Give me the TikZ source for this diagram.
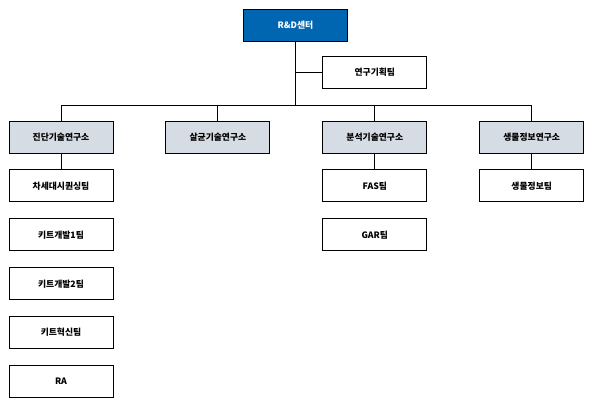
\documentclass[tikz,border=0pt]{standalone}
\usepackage{fontspec}
\setmainfont{Noto Sans CJK KR}
\usepackage{tikz}
\usetikzlibrary{positioning}
\definecolor{centerblue}{RGB}{0,102,178}
\definecolor{labgray}{RGB}{214,220,228}
\tikzset{
  unit/.style={draw, line width=0.9pt, minimum width=104pt, minimum height=32pt,
    inner sep=0pt, font=\fontsize{8.8}{10}\selectfont\bfseries},
  center/.style={unit, fill=centerblue, text=white},
  lab/.style={unit, fill=labgray},
  link/.style={line width=0.9pt}
}
\begin{document}
\begin{tikzpicture}[x=1pt, y=1pt]
    \useasboundingbox (0,0) rectangle (592,-400);
    \node (rnd) [center] at (295.5,-25.5) {R\&D센터};
    \node (lab1) [lab] at (61,-137) {진단기술연구소};
    \node (lab2) [lab, right=52pt of lab1] {살균기술연구소};
    \node (lab3) [lab, right=52pt of lab2] {분석기술연구소};
    \node (lab4) [lab, right=52pt of lab3] {생물정보연구소};
    \node (plan) [unit, above=31.5pt of lab3] {연구기획팀};
    % 진단기술연구소 teams
    \node (seq)  [unit, below=16pt of lab1] {차세대시퀀싱팀};
    \node (kit1) [unit, below=16pt of seq]  {키트개발1팀};
    \node (kit2) [unit, below=16pt of kit1] {키트개발2팀};
    \node (kit3) [unit, below=16pt of kit2] {키트혁신팀};
    \node (ra)   [unit, below=16pt of kit3] {RA};
    % 분석기술연구소 / 생물정보연구소 teams
    \node (fas)  [unit, below=16pt of lab3] {FAS팀};
    \node (gar)  [unit, below=16pt of fas]  {GAR팀};
    \node (bio)  [unit, below=16pt of lab4] {생물정보팀};
    \coordinate (bus) at ([yshift=15pt]lab1.north);
    \draw[link] (rnd.south) -- (rnd.south |- bus);
    \draw[link] (plan.west) -- (plan.west -| rnd.south);
    \draw[link] (lab1.north) -- (bus) -| (lab4.north);
    \draw[link] (lab2.north) -- (lab2.north |- bus);
    \draw[link] (lab3.north) -- (lab3.north |- bus);
    \draw[link] (lab1) -- (seq);
    \draw[link] (lab3) -- (fas);
    \draw[link] (lab4) -- (bio);
\end{tikzpicture}
\end{document}
